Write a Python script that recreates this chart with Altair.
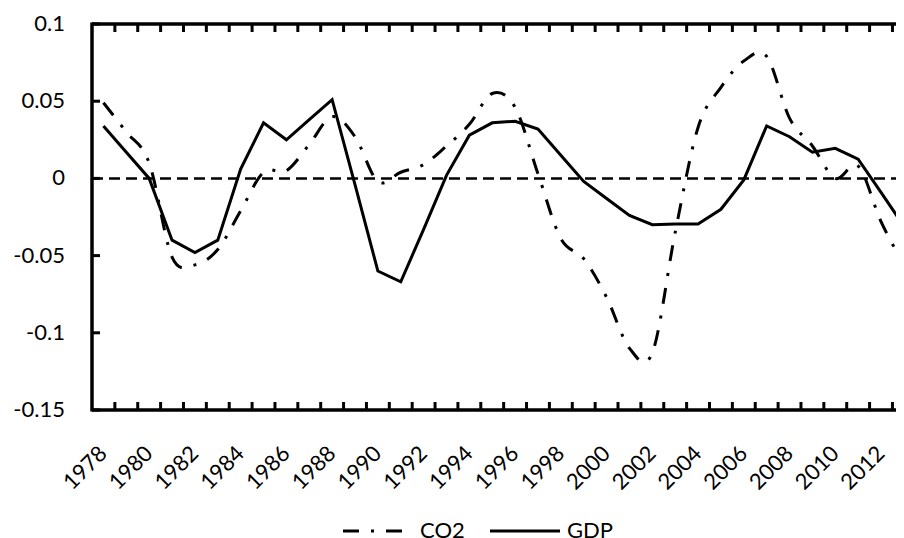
import altair as alt
import pandas as pd

years = list(range(1978, 2014))
co2 = [0.049, 0.030, 0.010, -0.051, -0.056, -0.046, -0.021, 0.004, 0.005, 0.022,
       0.040, 0.027, -0.002, 0.004, 0.009, 0.021, 0.035, 0.055, 0.046, 0.003,
       -0.039, -0.052, -0.077, -0.110, -0.113, -0.035, 0.033, 0.059, 0.076, 0.079,
       0.039, 0.021, 0.000, 0.008, -0.028, -0.056]
gdp = [0.034, 0.017, 0.000, -0.040, -0.048, -0.040, 0.006, 0.036, 0.025, 0.038,
       0.051, -0.004, -0.060, -0.067, -0.033, 0.002, 0.028, 0.036, 0.037, 0.032,
       0.015, -0.002, -0.013, -0.024, -0.030, -0.0295, -0.0295, -0.020, -0.001, 0.034,
       0.027, 0.017, 0.0195, 0.0125, -0.009, -0.031]
series_names = ["CO2", "GDP"]
y_ticks = [0.1, 0.05, 0, -0.05, -0.1, -0.15]
y_tick_labels = ["0.1", "0.05", "0", "-0.05", "-0.1", "-0.15"]
x_labels = list(range(1978, 2013, 2))

W, H = 804, 386
FONT = "Lato"
FS = 22
CO2_DASH = [16, 12, 3, 12]

df = pd.DataFrame({
    "year": years * 2,
    "value": co2 + gdp,
    "series": ["CO2"] * len(years) + ["GDP"] * len(years),
})
xt = pd.DataFrame({"t": [y + 0.5 for y in years[:-1]]})
yt = pd.DataFrame({"v": y_ticks, "lab": y_tick_labels})
xl = pd.DataFrame({"yr": x_labels, "lab": [str(y) for y in x_labels]})
leg = pd.DataFrame({"series": series_names})
one = pd.DataFrame({"a": [0]})
zero = pd.DataFrame({"z": [0.0]})

xscale = alt.Scale(domain=[1977.5, 2012.655], nice=False, zero=False)
yscale = alt.Scale(domain=[-0.15, 0.1], nice=False, zero=False)

# inward tick marks (drawn first)
top_ticks = alt.Chart(xt).mark_rule(color="black", strokeWidth=3).encode(
    x=alt.X("t:Q", scale=xscale, axis=None), y=alt.value(0), y2=alt.value(8)
)
bot_ticks = alt.Chart(xt).mark_rule(color="black", strokeWidth=3).encode(
    x=alt.X("t:Q", scale=xscale, axis=None), y=alt.value(H), y2=alt.value(H - 8)
)
y_tick_marks = alt.Chart(yt).mark_rule(color="black", strokeWidth=3).encode(
    y=alt.Y("v:Q", scale=yscale, axis=None), x=alt.value(0), x2=alt.value(8)
)

zline = alt.Chart(zero).mark_rule(color="black", strokeWidth=2.5, strokeDash=[11, 6]).encode(
    y=alt.Y("z:Q", scale=yscale, axis=None), x=alt.value(0), x2=alt.value(W)
)

co2_line = alt.Chart(df).transform_filter(alt.datum.series == "CO2").mark_line(
    color="black", strokeWidth=3, interpolate="cardinal", strokeDash=CO2_DASH, clip=True
).encode(
    x=alt.X("year:Q", scale=xscale, axis=None),
    y=alt.Y("value:Q", scale=yscale, axis=None),
)
gdp_line = alt.Chart(df).transform_filter(alt.datum.series == "GDP").mark_line(
    color="black", strokeWidth=3, clip=True
).encode(
    x=alt.X("year:Q", scale=xscale, axis=None),
    y=alt.Y("value:Q", scale=yscale, axis=None),
)

left_line = alt.Chart(one).mark_rule(color="black", strokeWidth=3.5).encode(
    x=alt.value(0), y=alt.value(-1.5), y2=alt.value(H + 1.5)
)
top_line = alt.Chart(one).mark_rule(color="black", strokeWidth=3.5).encode(
    y=alt.value(0), x=alt.value(0), x2=alt.value(W)
)
bot_line = alt.Chart(one).mark_rule(color="black", strokeWidth=3.5).encode(
    y=alt.value(H), x=alt.value(0), x2=alt.value(W)
)

y_label_text = alt.Chart(yt).mark_text(
    align="right", baseline="middle", font=FONT, fontSize=FS, color="black"
).encode(
    y=alt.Y("v:Q", scale=yscale, axis=None), x=alt.value(-27), text="lab:N"
)
x_label_text = alt.Chart(xl).mark_text(
    align="right", baseline="middle", angle=315, font=FONT, fontSize=FS, color="black"
).encode(
    x=alt.X("yr:Q", scale=xscale, axis=None), y=alt.value(H + 40), text="lab:N"
)

# legend (bottom, centred under the plot)
LEG_Y = 507
leg_co2_sym = alt.Chart(one).mark_rule(color="black", strokeWidth=3, strokeDash=CO2_DASH).encode(
    x=alt.value(251), x2=alt.value(321), y=alt.value(LEG_Y)
)
leg_gdp_sym = alt.Chart(one).mark_rule(color="black", strokeWidth=3).encode(
    x=alt.value(398), x2=alt.value(468), y=alt.value(LEG_Y)
)
leg_co2_txt = alt.Chart(leg).transform_filter(alt.datum.series == "CO2").mark_text(
    align="left", baseline="middle", font=FONT, fontSize=FS, color="black"
).encode(x=alt.value(328), y=alt.value(LEG_Y), text="series:N")
leg_gdp_txt = alt.Chart(leg).transform_filter(alt.datum.series == "GDP").mark_text(
    align="left", baseline="middle", font=FONT, fontSize=FS, color="black"
).encode(x=alt.value(475), y=alt.value(LEG_Y), text="series:N")

chart = alt.layer(
    top_ticks, bot_ticks, y_tick_marks, zline, co2_line, gdp_line,
    left_line, top_line, bot_line, y_label_text, x_label_text,
    leg_co2_sym, leg_gdp_sym, leg_co2_txt, leg_gdp_txt,
).properties(
    width=W, height=H,
    autosize=alt.AutoSizeParams(type="none"),
    padding={"left": 84, "top": 16, "right": 0, "bottom": 128},
).configure_view(stroke=None)

chart.save("out.html", embed_options={"renderer": "svg", "actions": False})
